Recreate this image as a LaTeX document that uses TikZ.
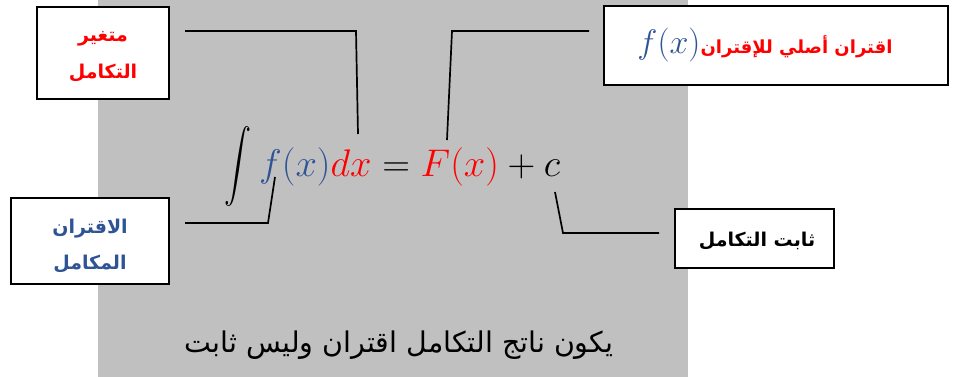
\RequirePackage{fix-cm}
\documentclass[tikz,border=0pt]{standalone}
\usepackage{fontspec}
\usepackage{xcolor}
\TeXXeTstate=1
\newfontfamily\arabicfont[Script=Arabic]{DejaVu Sans}
\definecolor{bgray}{HTML}{C0C0C0}
\definecolor{wblue}{HTML}{2F5496}
\definecolor{wred}{HTML}{FF0000}
\begin{document}
\begin{tikzpicture}[x=1pt,y=-1pt,
  box/.style={draw=black,line width=2.6pt,fill=white,inner sep=0pt},
  lbl/.style={inner sep=0pt,align=center},
  conn/.style={draw=black,line width=1.7pt,line join=miter}]
\useasboundingbox (0,0) rectangle (959,377);
\fill[bgray] (98,0) rectangle (688,377);

% boxes
\node[box,minimum width=132pt,minimum height=92pt] (b1) at (103,53) {};
\node[lbl,font=\fontsize{19}{37}\selectfont\arabicfont\bfseries,text=wred] (t1) at (103,57)
  {\beginR متغير\endR\\\beginR التكامل\endR};
\node[box,minimum width=344pt,minimum height=79pt] (b2) at (776,45.5) {};
\node[lbl] (t2) at (765,45)
  {{\fontsize{34}{36}\selectfont\color{wblue}$f(x)$}{\fontsize{18}{22}\selectfont\arabicfont\bfseries\color{wred}\beginR اقتران أصلي للإقتران\endR}};
\node[box,minimum width=158pt,minimum height=86pt] (b3) at (90,241) {};
\node[lbl,font=\fontsize{19}{36}\selectfont\arabicfont\bfseries,text=wblue] (t3) at (90,246)
  {\beginR الاقتران\endR\\\beginR المكامل\endR};
\node[box,minimum width=159pt,minimum height=59pt] (b4) at (754.5,238.5) {};
\node[lbl,font=\fontsize{19}{22}\selectfont\arabicfont\bfseries,text=black] (t4) at (757,241)
  {\beginR ثابت التكامل\endR};

% equation
\node[inner sep=0pt] (int) at (238,167) {\resizebox*{27pt}{80pt}{$\displaystyle\int$}};
\node[anchor=base west,inner sep=0pt] (eq) at (259,177)
  {\fontsize{38.5}{40}\selectfont${\color{wblue}f(x)}{\color{wred}dx}={\color{wred}F(x)}+c$};

% bottom text
\node[anchor=base,inner sep=0pt,font=\fontsize{28.5}{30}\selectfont\arabicfont] (note) at (399,352)
  {\beginR يكون ناتج التكامل اقتران وليس ثابت\endR};

% connectors
\coordinate (c1a) at (185,31); \coordinate (c1b) at (356,31); \coordinate (c1c) at (358,134);
\coordinate (c2a) at (589,31); \coordinate (c2b) at (452,31); \coordinate (c2c) at (447,140);
\coordinate (c3a) at (185,223); \coordinate (c3b) at (268,223); \coordinate (c3c) at (275,177);
\coordinate (c4a) at (555,192); \coordinate (c4b) at (563,233); \coordinate (c4c) at (659,233);
\draw[conn] (c1a) -- (c1b) -- (c1c);
\draw[conn] (c2a) -- (c2b) -- (c2c);
\draw[conn] (c3a) -- (c3b) -- (c3c);
\draw[conn] (c4a) -- (c4b) -- (c4c);
\end{tikzpicture}
\end{document}
